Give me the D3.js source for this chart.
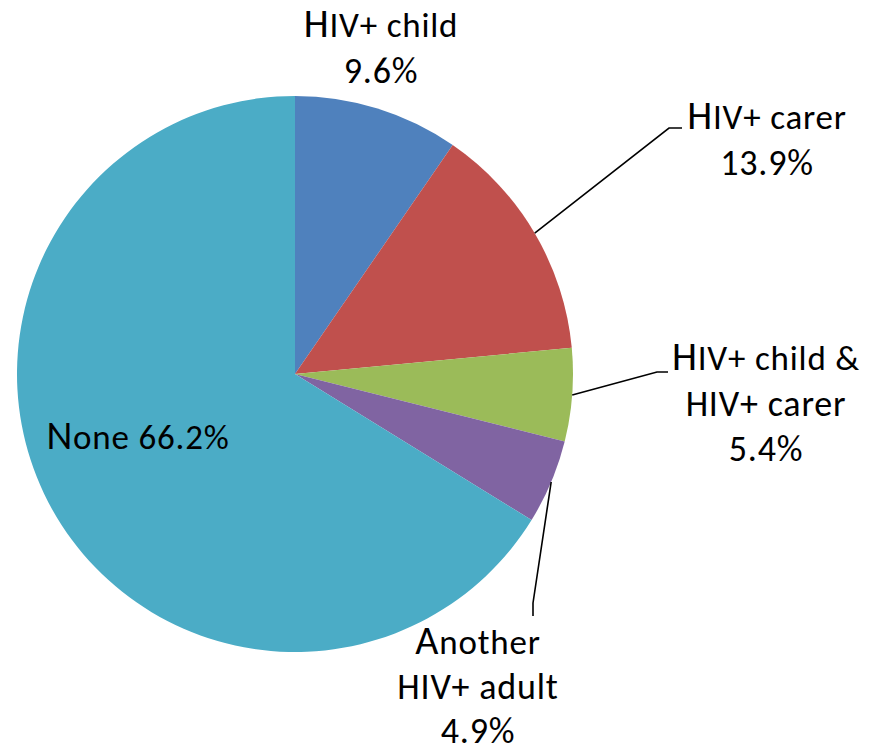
<!DOCTYPE html>
<html><head><meta charset="utf-8">
<script src="https://cdn.jsdelivr.net/npm/d3@7"></script>
<style>html,body{margin:0;padding:0;background:#fff;}svg{display:block;}</style>
</head><body>
<svg id="chart" width="879" height="754"></svg>
<script>
const categories = ["HIV+ child", "HIV+ carer", "HIV+ child & HIV+ carer", "Another HIV+ adult", "None"];
const values = [9.6, 13.9, 5.4, 4.9, 66.2];
const colors = ["#4F81BD", "#C0504D", "#9BBB59", "#8064A2", "#4BACC6"];
const labelLines = [["HIV+ child", "9.6%"], ["HIV+ carer", "13.9%"], ["HIV+ child &", "HIV+ carer", "5.4%"], ["Another", "HIV+ adult", "4.9%"], ["None 66.2%"]];

const svg = d3.select("#chart");
const cx = 295, cy = 374, R = 278;
const g = svg.append("g").attr("transform", `translate(${cx},${cy})`);

const pie = d3.pie().sort(null).value(d => d);
const arcs = pie(values);
const arc = d3.arc().innerRadius(0).outerRadius(R);

g.selectAll("path.slice").data(arcs).enter().append("path")
  .attr("class", "slice")
  .attr("d", arc)
  .attr("fill", (d, i) => colors[i]);

// label layout: anchor point (center x, first baseline), leader elbow
const layout = [
  {x: 381, y: 37, lh: 45.5, leader: null},
  {x: 767, y: 129, lh: 45.5, leader: {elbow: [669, 128], end: [682, 128]}},
  {x: 766, y: 370, lh: 45.5, leader: {elbow: [657, 372], end: [668, 372]}},
  {x: 478, y: 654, lh: 44.5, leader: {elbow: [533, 603], end: [533, 616]}},
  {x: 138, y: 449, lh: 45.5, leader: null}
];
const fontFam = "Carlito, Calibri, Lato, sans-serif";

arcs.forEach((a, i) => {
  const L = layout[i];
  if (L.leader) {
    const mid = (a.startAngle + a.endAngle) / 2;
    const sx = cx + R * Math.sin(mid), sy = cy - R * Math.cos(mid);
    svg.append("polyline")
      .attr("points", [[sx, sy], L.leader.elbow, L.leader.end].map(p => p.join(",")).join(" "))
      .attr("fill", "none").attr("stroke", "#000").attr("stroke-width", 1.6);
  }
  const t = svg.append("text")
    .attr("text-anchor", "middle")
    .attr("font-family", fontFam)
    .attr("font-size", 36)
    .attr("letter-spacing", 0.8)
    .attr("fill", "#000");
  labelLines[i].forEach((line, j) => {
    if (j === 0) {
      const ts = t.append("tspan").attr("x", L.x).attr("y", L.y);
      ts.append("tspan").attr("font-size", 40).text(line[0]);
      ts.append("tspan").attr("font-size", 35).text(line.slice(1));
    } else {
      t.append("tspan").attr("x", L.x).attr("y", L.y + j * L.lh).text(line);
    }
  });
});
</script>
</body></html>
